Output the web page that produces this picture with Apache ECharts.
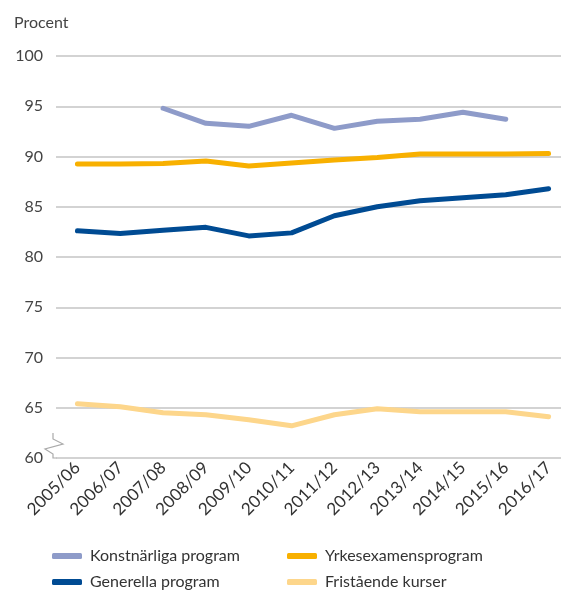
<!DOCTYPE html>
<html>
<head>
<meta charset="utf-8">
<script src="https://cdn.jsdelivr.net/npm/echarts@6/dist/echarts.min.js"></script>
<style>
  html, body { margin: 0; padding: 0; background: #fff; }
  #chart { width: 561px; height: 590px; }
</style>
</head>
<body>
<div id="chart"></div>
<script>
// läsåren
const categories = ['2005/06', '2006/07', '2007/08', '2008/09', '2009/10', '2010/11',
    '2011/12', '2012/13', '2013/14', '2014/15', '2015/16', '2016/17'];

const konstnarliga = [null, null, 94.8, 93.3, 93.0, 94.1, 92.8, 93.5, 93.7, 94.4, 93.7, null];
const yrkesexamen = [89.25, 89.25, 89.3, 89.55, 89.05, 89.35, 89.65, 89.9, 90.25, 90.25, 90.25, 90.3];
const generella = [82.6, 82.35, 82.65, 82.95, 82.1, 82.4, 84.1, 85.0, 85.6, 85.9, 86.2, 86.8];
const fristaende = [65.4, 65.1, 64.5, 64.3, 63.8, 63.2, 64.3, 64.9, 64.6, 64.6, 64.6, 64.1];

const yTicks = [60, 65, 70, 75, 80, 85, 90, 95, 100];

const font = 'Lato, "Open Sans", sans-serif';

function line(name, data, color) {
    return {
        name: name,
        type: 'line',
        data: data,
        symbol: 'none',
        smooth: false,
        lineStyle: { color: color, width: 5, cap: 'round', join: 'round' },
        itemStyle: { color: color }
    };
}

function legendCol(names, left) {
    return {
        data: names,
        orient: 'vertical',
        left: left,
        top: 548,
        height: 44,
        padding: 0,
        itemGap: 10,
        itemWidth: 30,
        itemHeight: 6,
        icon: 'roundRect',
        textStyle: { fontSize: 16, color: '#333', fontFamily: font, padding: [0, 0, 0, 3] }
    };
}

const chart = echarts.init(document.getElementById('chart'));

chart.setOption({
    animation: false,
    textStyle: { fontFamily: font },
    title: {
        text: 'Procent',
        left: 9,
        top: 10,
        textStyle: { fontFamily: font, fontSize: 16, fontWeight: 'normal', color: '#444' }
    },
    grid: { left: 56, width: 514, top: 56, bottom: 132, containLabel: false, outerBoundsMode: 'none' },
    xAxis: {
        type: 'category',
        data: categories,
        boundaryGap: true,
        axisLine: { show: false },
        axisTick: { show: false },
        axisLabel: {
            rotate: 45,
            interval: 0,
            margin: 7,
            fontSize: 17,
            color: '#333',
            fontFamily: font
        }
    },
    yAxis: {
        type: 'value',
        min: yTicks[0],
        max: yTicks[yTicks.length - 1],
        interval: 5,
        axisLine: { show: false },
        axisTick: { show: false },
        axisLabel: { fontSize: 16, color: '#444', margin: 13, fontFamily: font },
        splitLine: { lineStyle: { color: '#c4c4c4', width: 1.5 } }
    },
    legend: [
        legendCol(['Konstnärliga program', 'Generella program'], 52),
        legendCol(['Yrkesexamensprogram', 'Fristående kurser'], 287)
    ],
    graphic: [
        {
            type: 'polyline',
            shape: { points: [[53, 433], [53, 439], [63, 444], [45, 449], [53, 454], [53, 458], [57, 458]] },
            style: { stroke: '#aaa', lineWidth: 1.2, fill: null }
        }
    ],
    series: [
        line('Konstnärliga program', konstnarliga, '#8e9bc9'),
        line('Yrkesexamensprogram', yrkesexamen, '#f8b000'),
        line('Generella program', generella, '#004b93'),
        line('Fristående kurser', fristaende, '#fdd68b')
    ]
});
</script>
</body>
</html>
